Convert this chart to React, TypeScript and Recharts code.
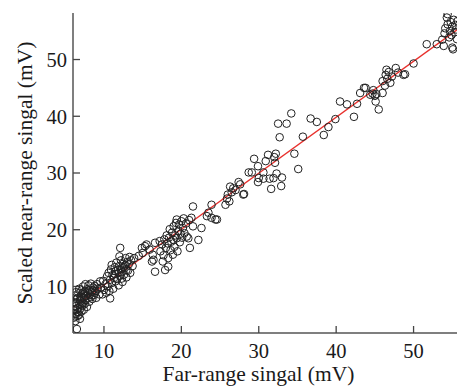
import * as React from "react";
import {
  ScatterChart,
  Scatter,
  XAxis,
  YAxis,
  ReferenceLine,
} from "recharts";

// far-range signal (x) vs scaled near-range signal (y), in mV
const lowCluster: [number, number][] = [
  [6.1, 4.5], [6.1, 5.8], [6.2, 7.2], [6.2, 8.4], [6.3, 3.9], [6.3, 6.5], [6.4, 9.0], [6.4, 5.2],
  [6.5, 2.5], [6.5, 7.8], [6.6, 4.8], [6.6, 6.2], [6.7, 8.8], [6.7, 5.5], [6.8, 7.0], [6.8, 9.6],
  [6.9, 4.3], [6.9, 6.0], [7.0, 8.2], [7.0, 7.4], [7.1, 5.6], [7.1, 9.3], [7.2, 6.6], [7.2, 8.0],
  [7.3, 7.1], [7.3, 10.0], [7.4, 5.9], [7.4, 8.6], [7.5, 6.9], [7.5, 9.1], [7.6, 7.6], [7.6, 10.4],
  [7.7, 8.3], [7.8, 6.4], [7.8, 9.5], [7.9, 7.9], [8.0, 8.8], [8.0, 10.2], [8.1, 7.3], [8.2, 9.4],
  [8.3, 8.1], [8.3, 10.5], [8.4, 9.0], [8.5, 7.8], [8.6, 9.8], [8.7, 8.5], [8.8, 10.1], [8.9, 9.2],
  [9.0, 8.0], [9.1, 10.4], [9.2, 9.6], [9.4, 8.6], [9.5, 10.9],
  [6.2, 6.0], [6.4, 7.0], [6.6, 8.0], [6.9, 7.6], [7.1, 6.8], [7.3, 8.9], [7.6, 8.4], [7.9, 9.1],
  [8.2, 8.6], [8.5, 9.3], [8.8, 8.9], [6.3, 4.7], [6.8, 5.0],
];

const cluster12: [number, number][] = [
  [9.6, 9.8], [9.8, 8.6], [9.9, 11.0], [10.0, 9.4], [10.2, 10.4], [10.3, 8.9], [10.4, 11.8], [10.5, 10.0],
  [10.6, 12.4], [10.7, 9.2], [10.8, 7.9], [10.8, 11.2], [10.9, 13.0], [11.0, 13.8], [11.0, 10.6], [11.1, 12.0],
  [11.2, 9.6], [11.3, 11.5], [11.4, 13.4], [11.5, 10.9], [11.5, 12.7], [11.6, 14.2], [11.7, 11.3], [11.8, 12.9],
  [11.9, 10.2], [12.0, 13.6], [12.0, 15.3], [12.1, 11.9], [12.1, 16.8], [12.2, 14.6], [12.3, 12.5], [12.4, 13.2],
  [12.4, 10.8], [12.5, 14.0], [12.6, 12.1], [12.7, 13.7], [12.8, 15.0], [12.9, 11.6], [13.0, 14.3], [13.1, 12.8],
  [13.2, 13.9], [13.3, 15.2], [13.4, 12.4], [13.5, 14.6], [13.7, 13.6], [13.9, 15.0],
  [11.4, 12.2], [11.9, 12.4], [12.2, 13.0], [12.6, 13.4], [12.9, 12.9], [12.3, 11.4],
];

const cluster15: [number, number][] = [
  [14.5, 15.4], [14.9, 16.8], [15.0, 15.9], [15.3, 17.1], [15.5, 17.4], [15.9, 16.5], [16.2, 14.4],
  [16.3, 15.6], [16.4, 14.7], [16.6, 12.6], [16.6, 17.7], [17.2, 18.0],
];

const cluster19: [number, number][] = [
  [17.3, 16.2], [17.5, 17.4], [17.6, 14.4], [17.7, 15.5], [17.8, 18.3], [17.9, 12.9], [18.0, 16.8], [18.1, 19.0],
  [18.2, 17.6], [18.3, 15.0], [18.3, 13.5], [18.4, 18.6], [18.5, 20.1], [18.6, 16.4], [18.7, 17.9], [18.8, 19.5],
  [18.9, 15.6], [19.0, 18.2], [19.0, 20.6], [19.1, 17.0], [19.2, 19.0], [19.3, 21.2], [19.4, 18.5], [19.4, 21.8],
  [19.5, 16.2], [19.6, 19.8], [19.7, 20.9], [19.8, 17.8], [19.9, 19.3], [20.0, 21.5], [20.1, 18.6], [20.2, 20.3],
  [20.3, 22.0], [20.4, 19.4], [20.6, 21.1], [20.7, 18.8], [20.9, 18.5], [21.0, 21.7], [21.1, 16.8], [21.3, 22.1],
  [21.5, 24.1], [21.5, 20.6], [22.2, 18.2], [22.6, 20.3],
];

const cluster26: [number, number][] = [
  [23.3, 22.4], [23.5, 23.0], [23.9, 24.4], [23.9, 22.1], [24.4, 21.8], [24.6, 21.8], [25.7, 24.4], [25.9, 25.5],
  [26.0, 26.2], [26.2, 25.0], [26.3, 27.6], [26.5, 26.6], [26.7, 27.3], [27.0, 27.0], [27.4, 28.4], [27.6, 28.0],
  [28.0, 26.2], [28.1, 26.3],
];

const cluster32: [number, number][] = [
  [28.7, 30.1], [29.1, 30.1], [29.4, 32.5], [29.9, 31.2], [29.9, 28.4], [30.0, 29.1], [30.6, 30.1], [30.6, 29.0],
  [30.9, 32.1], [31.2, 33.2], [31.4, 29.0], [31.6, 27.2], [31.9, 29.1], [32.0, 32.8], [32.1, 31.8], [32.3, 29.9],
  [32.2, 33.4], [32.5, 38.7], [32.7, 36.3], [32.9, 27.7], [33.0, 29.2], [33.6, 38.7], [34.2, 40.5], [34.6, 33.4],
  [35.1, 30.7], [35.7, 36.4],
];

const cluster42: [number, number][] = [
  [36.7, 39.6], [37.5, 39.0], [38.4, 36.7], [39.0, 38.1], [39.9, 39.5], [40.5, 42.6], [41.4, 42.1], [42.3, 39.9],
  [42.7, 42.2], [43.1, 44.1], [43.6, 45.0], [43.8, 45.0], [44.4, 43.8], [44.7, 44.0], [45.0, 43.6], [45.1, 42.6],
  [45.5, 41.2], [44.8, 44.6], [45.2, 43.9],
];

const cluster47: [number, number][] = [
  [46.0, 44.1], [46.0, 46.2], [46.3, 45.4], [46.4, 47.3], [46.5, 48.2], [46.6, 46.6], [46.8, 47.8], [47.0, 45.9],
  [47.2, 47.0], [47.7, 48.5], [48.0, 47.7], [48.7, 47.3], [48.9, 47.4], [50.0, 49.3],
];

const cluster55: [number, number][] = [
  [51.7, 52.7], [53.0, 52.7], [53.9, 52.4], [53.7, 53.5], [54.0, 54.6], [54.1, 55.5], [54.3, 57.4], [54.4, 58.0],
  [54.4, 56.2], [54.6, 53.9], [54.7, 55.0], [54.8, 56.6], [54.9, 54.3], [55.0, 52.1], [55.0, 55.8], [55.1, 51.8],
  [55.2, 57.0], [55.3, 54.8], [55.4, 56.1], [55.5, 55.3], [55.6, 53.6], [55.7, 56.8],
];

// fitted line end points
const fitLine = [
  { x: 6, y: 6.3 },
  { x: 56, y: 55.6 },
];

const xTicks = [10, 20, 30, 40, 50];
const yTicks = [10, 20, 30, 40, 50];

const points = [
  ...lowCluster,
  ...cluster12,
  ...cluster15,
  ...cluster19,
  ...cluster26,
  ...cluster32,
  ...cluster42,
  ...cluster47,
  ...cluster55,
].map(([x, y]) => ({ x, y }));

const FONT = "'Liberation Serif', 'DejaVu Serif', serif";
const tickStyle = { fontFamily: FONT, fontSize: 20.5, fill: "#1a1a1a" };
const labelStyle = { fontFamily: FONT, fontSize: 21.5, fill: "#1a1a1a" };

const OpenCircle = (props: any) => (
  <circle cx={props.cx} cy={props.cy} r={3.8} fill="none" stroke="#222" strokeWidth={1} />
);

export default function App() {
  return (
    <div
      style={{
        position: "fixed",
        left: 0,
        top: 0,
        width: 457,
        height: 388,
        overflow: "hidden",
        background: "#fff",
      }}
    >
      <ScatterChart
        width={460}
        height={388}
        margin={{ top: 13, right: 0, bottom: 0, left: 0 }}
      >
        <XAxis
          xAxisId="top"
          orientation="top"
          type="number"
          dataKey="x"
          domain={[6, 56]}
          height={0}
          tick={false}
          tickLine={false}
          axisLine={{ stroke: "#333", strokeWidth: 1.5 }}
        />
        <XAxis
          type="number"
          dataKey="x"
          domain={[6, 56]}
          ticks={xTicks}
          allowDataOverflow
          height={55}
          tickSize={-7}
          tickMargin={17}
          tick={tickStyle}
          tickLine={{ stroke: "#444", strokeWidth: 1.3 }}
          axisLine={{ stroke: "#555", strokeWidth: 1.5 }}
          label={{
            value: "Far-range singal (mV)",
            position: "insideBottom",
            offset: 7,
            dx: -8,
            style: labelStyle,
          }}
        />
        <YAxis
          type="number"
          dataKey="y"
          domain={[1.8, 58.2]}
          ticks={yTicks}
          allowDataOverflow
          width={73}
          tickSize={-7}
          tickMargin={13}
          tick={tickStyle}
          tickLine={{ stroke: "#444", strokeWidth: 1.3 }}
          axisLine={{ stroke: "#555", strokeWidth: 1.5 }}
          label={{
            value: "Scaled near-range singal (mV)",
            angle: -90,
            position: "center",
            dx: -12,
            style: { ...labelStyle, textAnchor: "middle" },
          }}
        />
        <Scatter
          data={points}
          shape={OpenCircle}
          isAnimationActive={false}
        />
        <ReferenceLine
          segment={fitLine}
          stroke="#e8302c"
          strokeWidth={1.3}
          ifOverflow="visible"
        />
      </ScatterChart>
    </div>
  );
}
